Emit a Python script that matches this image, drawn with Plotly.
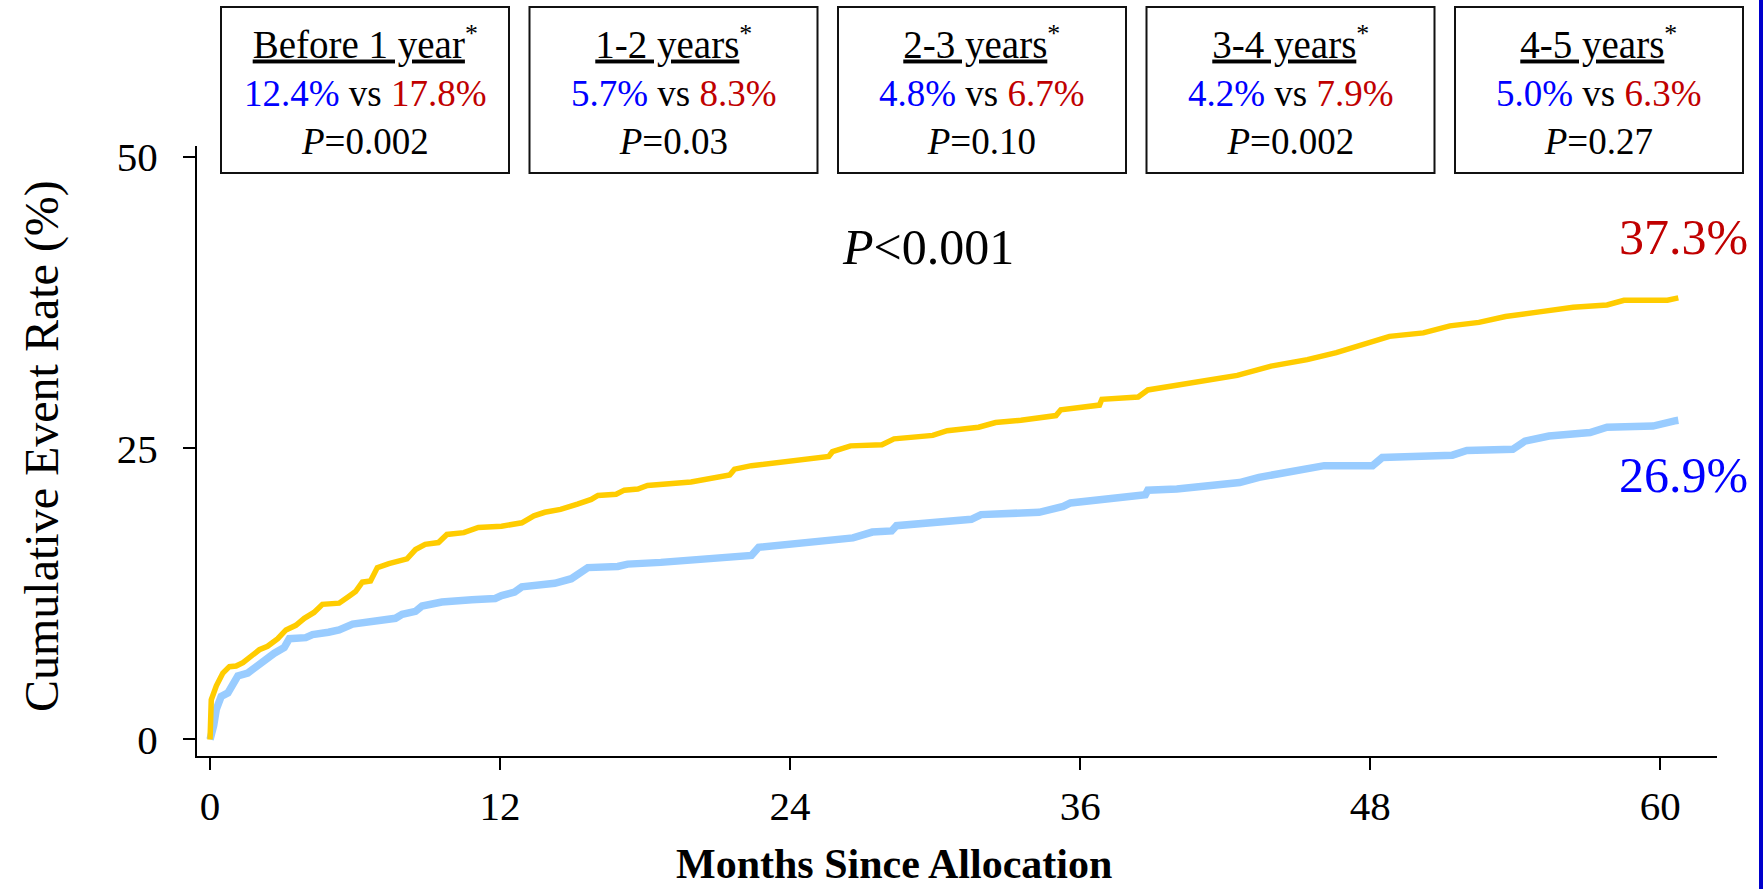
import plotly.graph_objects as go

# ---- data (months since allocation, cumulative event rate %) ----
yellow_months = [0, 0.05, 0.26, 0.53, 0.8, 1.08, 1.36, 1.70, 2.04, 2.38, 2.8, 3.14, 3.55, 3.9, 4.3,
                 4.65, 5.34, 5.75, 6.02, 6.3, 6.64, 6.92, 7.4, 8.15, 8.5, 8.9, 9.45, 9.8, 10.5, 11.1,
                 12.06, 12.9, 13.4, 13.85, 14.5, 15.2, 15.77, 16.05, 16.8, 17.14, 17.7, 18.1, 19.07,
                 19.9, 21.5, 21.7, 22.4, 23.7, 25.6, 25.75, 26.5, 27.8, 28.3, 29.9, 30.5, 31.8, 32.5,
                 33.55, 35.0, 35.2, 36.8, 36.9, 38.4, 38.8, 40.7, 42.5, 43.9, 45.4, 46.6, 47.8, 48.8,
                 50.2, 51.3, 52.5, 53.6, 55.0, 56.4, 57.8, 58.5, 60.3, 60.75]
yellow_rate = [0, 3.4, 4.6, 5.7, 6.25, 6.3, 6.6, 7.2, 7.7, 8.0, 8.65, 9.4, 9.8, 10.4, 10.9,
               11.6, 11.7, 12.3, 12.7, 13.5, 13.6, 14.75, 15.1, 15.5, 16.3, 16.75, 16.9, 17.6, 17.75, 18.2,
               18.3, 18.6, 19.2, 19.5, 19.75, 20.2, 20.6, 20.95, 21.05, 21.4, 21.5, 21.8, 21.9,
               22.1, 22.7, 23.2, 23.5, 23.8, 24.3, 24.7, 25.2, 25.3, 25.8, 26.1, 26.5, 26.8, 27.2,
               27.4, 27.8, 28.3, 28.7, 29.2, 29.4, 30.0, 30.6, 31.25, 32.05, 32.6, 33.2, 34.0, 34.6,
               34.9, 35.5, 35.8, 36.3, 36.7, 37.1, 37.3, 37.7, 37.7, 37.9]

blue_months = [0, 0.05, 0.15, 0.26, 0.46, 0.74, 0.94, 1.15, 1.56, 1.9, 2.25, 2.66, 3.07, 3.28, 3.96,
               4.24, 4.9, 5.34, 5.9, 6.85, 7.67, 7.95, 8.5, 8.77, 9.59, 10.83, 11.8, 12.06, 12.6, 12.9,
               13.6, 14.26, 14.95, 15.3, 15.63, 16.87, 17.28, 18.65, 19.2, 20.2, 22.4, 22.7, 24.9,
               26.6, 27.4, 28.2, 28.4, 31.5, 31.9, 34.3, 35.3, 35.6, 38.7, 38.8, 40.0, 41.5, 42.6,
               43.4, 44.7, 46.1, 48.1, 48.5, 51.4, 52.0, 53.9, 54.4, 55.4, 57.1, 57.8, 59.7, 60.6, 60.75]
blue_rate = [0, 0.3, 1.2, 2.6, 3.7, 4.0, 4.6, 5.45, 5.7, 6.25, 6.8, 7.4, 7.9, 8.65, 8.74,
             9.0, 9.2, 9.4, 9.9, 10.2, 10.4, 10.75, 11.0, 11.45, 11.8, 12.0, 12.1, 12.35, 12.65, 13.1,
             13.2, 13.4, 13.8, 14.3, 14.75, 14.85, 15.05, 15.2, 15.3, 15.4, 15.8, 16.5, 16.95,
             17.3, 17.8, 17.9, 18.35, 18.9, 19.3, 19.5, 20.0, 20.3, 21.0, 21.4, 21.5, 21.9, 22.05,
             22.5, 23.0, 23.5, 23.5, 24.2, 24.4, 24.8, 24.9, 25.6, 26.05, 26.35, 26.8, 26.9, 27.35, 27.4]

x_ticks = [0, 12, 24, 36, 48, 60]
y_ticks = [0, 25, 50]

period_labels = ["Before 1 year", "1-2 years", "2-3 years", "3-4 years", "4-5 years"]
period_blue = ["12.4%", "5.7%", "4.8%", "4.2%", "5.0%"]
period_red = ["17.8%", "8.3%", "6.7%", "7.9%", "6.3%"]
period_p = ["0.002", "0.03", "0.10", "0.002", "0.27"]

final_blue = "26.9%"
final_red = "37.3%"
overall_p = "<0.001"

FONT = "Liberation Serif, Times New Roman, serif"
BLUE_TXT = "#0000FF"
RED_TXT = "#C00000"

W, H = 1764, 889
ML, MR, MT, MB = 197, 47, 146, 133
PW, PH = W - ML - MR, H - MT - MB


def px(xp):
    return (xp - ML) / PW


def py(yp):
    return (H - MB - yp) / PH


fig = go.Figure()
fig.add_trace(go.Scatter(x=blue_months, y=blue_rate, mode="lines",
                         line=dict(color="#99CCFF", width=7.5), showlegend=False))
fig.add_trace(go.Scatter(x=yellow_months, y=yellow_rate, mode="lines",
                         line=dict(color="#FFCC00", width=5.5), showlegend=False))

shapes = []
annotations = []
box_w = 288
for i, lab in enumerate(period_labels):
    left = 221 + i * 308.5
    shapes.append(dict(type="rect", xref="paper", yref="paper",
                       x0=px(left), x1=px(left + box_w), y0=py(173), y1=py(7),
                       line=dict(color="#111111", width=2), fillcolor="white", layer="above"))
    txt = (f"<span style='font-size:39px'><u>{lab}</u></span><sup>*</sup><br>"
           f"<span style='color:{BLUE_TXT}'>{period_blue[i]}</span> vs "
           f"<span style='color:{RED_TXT}'>{period_red[i]}</span><br>"
           f"<i>P</i>={period_p[i]}")
    annotations.append(dict(text=txt, xref="paper", yref="paper", x=px(left + box_w / 2), y=py(90),
                            xanchor="center", yanchor="middle", showarrow=False,
                            font=dict(family=FONT, size=37, color="black")))

annotations.append(dict(text="<i>P</i>" + overall_p.replace("<", "&lt;"), xref="paper", yref="paper",
                        x=px(928), y=py(247), xanchor="center", yanchor="middle", showarrow=False,
                        font=dict(family=FONT, size=50, color="black")))
annotations.append(dict(text=final_red, xref="paper", yref="paper", x=px(1750), y=py(237),
                        xanchor="right", yanchor="middle", showarrow=False,
                        font=dict(family=FONT, size=50, color=RED_TXT)))
annotations.append(dict(text=final_blue, xref="paper", yref="paper", x=px(1750), y=py(475),
                        xanchor="right", yanchor="middle", showarrow=False,
                        font=dict(family=FONT, size=50, color=BLUE_TXT)))
annotations.append(dict(text="Cumulative Event Rate (%)", xref="paper", yref="paper",
                        x=px(42), y=py(446), xanchor="center", yanchor="middle", textangle=-90,
                        showarrow=False, font=dict(family=FONT, size=48, color="black")))
annotations.append(dict(text="<b>Months Since Allocation</b>", xref="paper", yref="paper",
                        x=px(894), y=py(864), xanchor="center", yanchor="middle",
                        showarrow=False, font=dict(family=FONT, size=42, color="black")))

# blue frame strip at the right edge
shapes.append(dict(type="line", xref="paper", yref="paper", x0=px(1761), x1=px(1761),
                   y0=py(0), y1=py(H), line=dict(color="#0000CC", width=4)))

fig.update_layout(
    width=W, height=H,
    margin=dict(l=ML, r=MR, t=MT, b=MB, autoexpand=False),
    paper_bgcolor="white", plot_bgcolor="white",
    shapes=shapes, annotations=annotations,
    font=dict(family=FONT, color="black"),
)
fig.update_xaxes(range=[-0.54, 62.35], tickvals=x_ticks, ticktext=[str(v) for v in x_ticks],
                 showline=True, linecolor="black", linewidth=2, ticks="outside", ticklen=12,
                 tickwidth=2, tickcolor="black", showgrid=False, zeroline=False,
                 tickfont=dict(family=FONT, size=41, color="black"), ticklabelstandoff=1)
fig.update_yaxes(range=[-1.42, 50.94], tickvals=y_ticks, ticktext=[str(v) for v in y_ticks],
                 showline=True, linecolor="black", linewidth=2, ticks="outside", ticklen=12,
                 tickwidth=2, tickcolor="black", showgrid=False, zeroline=False,
                 tickfont=dict(family=FONT, size=41, color="black"), ticklabelstandoff=17)

fig.write_html("out.html")
